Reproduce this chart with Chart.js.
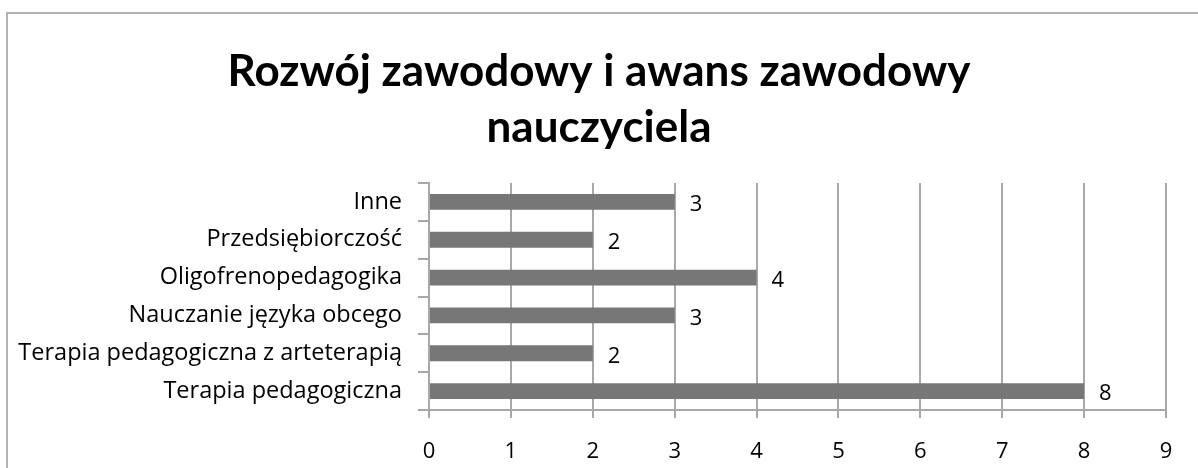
<!DOCTYPE html>
<html>
<head>
<meta charset="utf-8">
<script src="https://cdn.jsdelivr.net/npm/chart.js@4"></script>
<style>
    html, body { margin: 0; padding: 0; background: #fff; overflow: hidden; }
    #frame {
        position: absolute; left: 6px; top: 12px;
        width: 1400px; height: 700px;
        border: 2px solid #b3b3b3;
    }
    #wrap { position: absolute; left: 0; top: 0; width: 1198px; height: 468px; }
</style>
</head>
<body>
<div id="frame"></div>
<div id="wrap"><canvas id="chart" width="1198" height="468"></canvas></div>
<script>
const categories = [
    "Inne",
    "Przedsiębiorczość",
    "Oligofrenopedagogika",
    "Nauczanie języka obcego",
    "Terapia pedagogiczna z arteterapią",
    "Terapia pedagogiczna"
];
const counts = [3, 2, 4, 3, 2, 8];
const title_lines = ["Rozwój zawodowy i awans zawodowy", "nauczyciela"];
const x_max = 9;

const TITLE_FONT = "Lato, 'Open Sans', sans-serif";
const FONT = "'Open Sans', Lato, sans-serif";
const GRID = "#a8a8a8";

// value written just past the end of each bar
const valueLabels = {
    id: "valueLabels",
    afterDatasetsDraw(chart) {
        let ctx = chart.ctx;
        let meta = chart.getDatasetMeta(0);
        ctx.save();
        ctx.font = "22px " + FONT;
        ctx.fillStyle = "#000";
        ctx.textAlign = "left";
        ctx.textBaseline = "middle";
        meta.data.forEach((bar, i) => {
            ctx.fillText(String(counts[i]), bar.x + 15, bar.y + 3);
        });
        ctx.restore();
    }
};

// title centred on the whole canvas, not on the padded layout box
const pageTitle = {
    id: "pageTitle",
    afterDraw(chart) {
        let ctx = chart.ctx;
        ctx.save();
        ctx.font = "bold 44px " + TITLE_FONT;
        ctx.fillStyle = "#000";
        ctx.textAlign = "center";
        ctx.textBaseline = "middle";
        title_lines.forEach((line, i) => {
            ctx.fillText(line, chart.width / 2, 72 + i * 56);
        });
        ctx.restore();
    }
};

new Chart(document.getElementById("chart").getContext("2d"), {
    type: "bar",
    data: {
        labels: categories,
        datasets: [{
            data: counts,
            backgroundColor: "#777777",
            borderWidth: 0,
            barPercentage: 0.42,
            categoryPercentage: 1.0
        }]
    },
    options: {
        indexAxis: "y",
        responsive: false,
        animation: false,
        layout: { padding: { left: 0, right: 32, top: 183, bottom: 0 } },
        plugins: {
            legend: { display: false },
            tooltip: { enabled: false },
            title: { display: false }
        },
        scales: {
            x: {
                min: 0,
                max: x_max,
                ticks: {
                    stepSize: 1,
                    color: "#000",
                    font: { family: FONT, size: 22 },
                    padding: 21
                },
                grid: {
                    color: GRID,
                    lineWidth: 2,
                    tickLength: 8,
                    tickColor: GRID
                },
                border: { display: true, color: GRID, width: 2 },
                afterFit: scale => { scale.height = 58; }
            },
            y: {
                ticks: {
                    color: "#000",
                    font: { family: FONT, size: 23.5 },
                    padding: 16
                },
                grid: {
                    drawOnChartArea: false,
                    offset: true,
                    tickLength: 11,
                    color: GRID,
                    lineWidth: 2
                },
                border: { display: true, color: GRID, width: 2 },
                afterFit: scale => { scale.width = 429; }
            }
        }
    },
    plugins: [valueLabels, pageTitle]
});
</script>
</body>
</html>
